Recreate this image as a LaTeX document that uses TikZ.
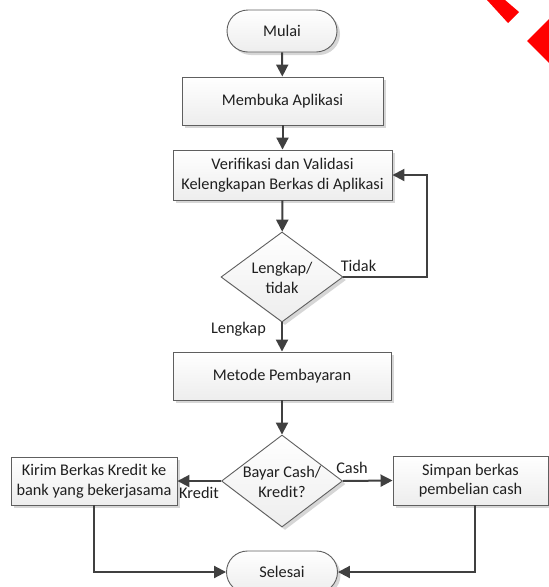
\documentclass[tikz,border=0pt]{standalone}
\usepackage{fontspec}
\setmainfont{Carlito}
\usetikzlibrary{shapes.geometric,shapes.misc,arrows.meta,shadows}
\definecolor{linec}{HTML}{404040}
\definecolor{borderc}{HTML}{5F5F5F}
\definecolor{shadowc}{HTML}{D6D6D6}
\definecolor{redc}{HTML}{FF0000}
\begin{document}
\begin{tikzpicture}[x=1pt,y=-1pt,
  every node/.style={font=\fontsize{16.3}{19.5}\selectfont, text=black!88},
  base/.style={draw=borderc, line width=0.9pt, top color=white, bottom color=gray!14,
    drop shadow={shadow xshift=3pt, shadow yshift=-3pt, fill=shadowc, opacity=1}},
  procbox/.style={base, rectangle, inner sep=0pt, align=center},
  term/.style={base, rounded rectangle, minimum width=110pt, minimum height=42pt, inner sep=0pt},
  decision/.style={base, diamond, inner sep=0pt},
  conn/.style={draw=linec, line width=2pt, -{Triangle[length=12pt,width=12pt]}},
  lbl/.style={inner sep=0pt, align=center}]
\useasboundingbox (0,0) rectangle (549,587);
\clip (0,0) rectangle (549,587);
% red corner marks
\fill[redc] (487,0) -- (505,0) -- (519,12) -- (508,23) -- cycle;
\fill[redc] (527,41) -- (560,8) -- (560,74) -- cycle;
% nodes
\node[term] (mulai) at (282,31) {Mulai};
\node[procbox, minimum width=201pt, minimum height=48pt] (membuka) at (282.5,101) {Membuka Aplikasi};
\node[procbox, minimum width=219pt, minimum height=50pt] (verif) at (282.5,175) {Verifikasi dan Validasi\\Kelengkapan Berkas di Aplikasi};
\node[decision, minimum width=122pt, minimum height=90pt] (d1) at (282,277) {};
\node[lbl] (d1t) at (282,278) {Lengkap/\\tidak};
\node[procbox, minimum width=218pt, minimum height=48pt] (metode) at (282,376) {Metode Pembayaran};
\node[decision, minimum width=121pt, minimum height=92pt] (d2) at (282,481) {};
\node[lbl] (d2t) at (282,482) {Bayar Cash/\\Kredit?};
\node[procbox, minimum width=166pt, minimum height=48pt] (kredit) at (94,481) {Kirim Berkas Kredit ke\\bank yang bekerjasama};
\node[procbox, minimum width=155pt, minimum height=49pt] (cash) at (470.5,480.5) {Simpan berkas\\pembelian cash};
\node[term, minimum width=111pt] (selesai) at (282,572) {Selesai};
\coordinate (loop) at (427,277);
% labels
\node[lbl] (ltidak) at (358.5,266) {Tidak};
\node[lbl] (llengkap) at (238.5,329) {Lengkap};
\node[lbl] (lkredit) at (199,493) {Kredit};
\node[lbl] (lcash) at (352,468) {Cash};
% connectors
\draw[conn] (mulai) -- (membuka);
\draw[conn] (membuka) -- (verif);
\draw[conn] (verif) -- (d1);
\draw[conn] (d1.east) -- (loop) |- (verif.east);
\draw[conn] (d1.south) -- (metode.north);
\draw[conn] (metode) -- (d2);
\draw[conn] (d2.west) -- (kredit.east);
\draw[conn] (d2.east) -- (cash.west);
\draw[conn] (kredit.south) |- (selesai.west);
\draw[conn] ([xshift=4.5pt]cash.south) |- (selesai.east);
\end{tikzpicture}
\end{document}
